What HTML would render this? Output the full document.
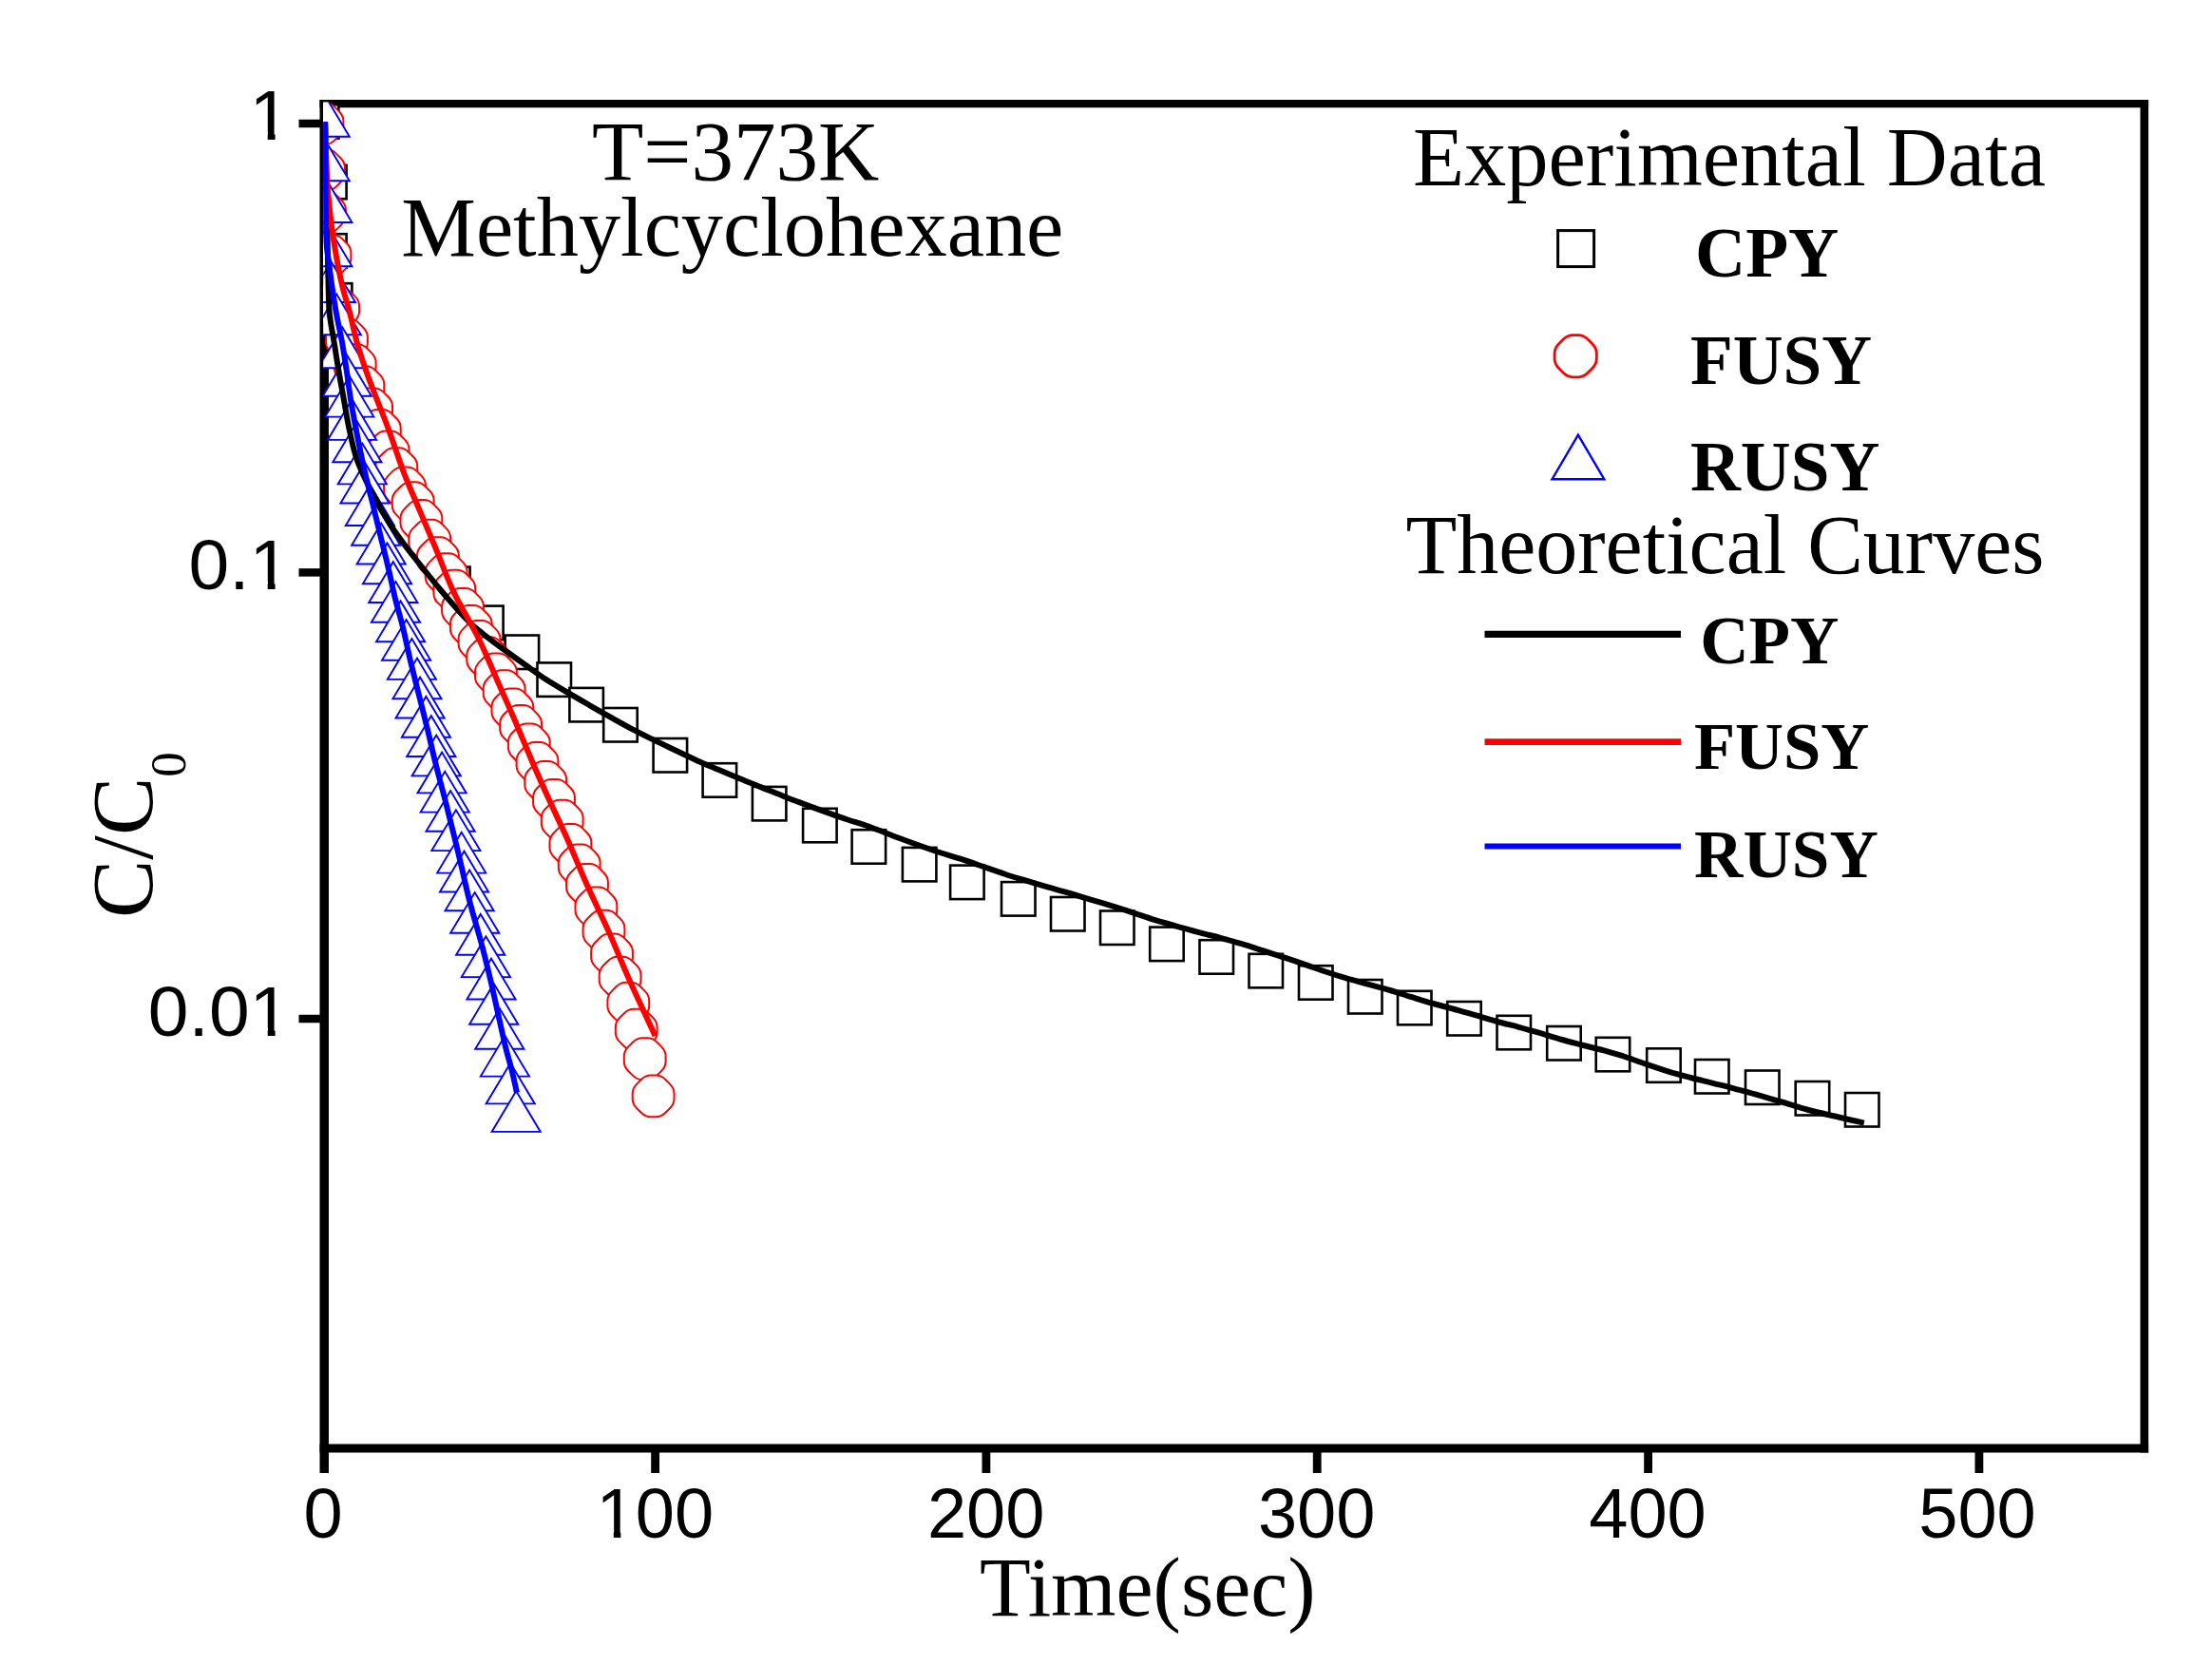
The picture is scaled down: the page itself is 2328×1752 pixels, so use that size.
<!DOCTYPE html>
<html><head><meta charset="utf-8"><title>C/C0 vs Time</title>
<style>html,body{margin:0;padding:0;background:#fff}svg{display:block;filter:blur(0.6px)}text{fill:#000}.s{font-family:"Liberation Serif",serif}.a{font-family:"Liberation Sans",sans-serif}.b{font-family:"Liberation Serif",serif;font-weight:bold}</style></head><body>
<svg width="2328" height="1752" viewBox="0 0 2328 1752">
<rect width="2328" height="1752" fill="#fff"/>
<defs><clipPath id="cp"><rect x="340.2" y="107.5" width="1917" height="1417"/></clipPath></defs>
<g stroke="#000" fill="none" stroke-linecap="butt">
<line x1="341.25" y1="105" x2="341.25" y2="1550" stroke-width="9.5"/>
<line x1="2256.8" y1="105" x2="2256.8" y2="1528.6" stroke-width="8.6"/>
<line x1="336.5" y1="109.1" x2="2261.1" y2="109.1" stroke-width="8.3"/>
<line x1="336.5" y1="1524" x2="2261.1" y2="1524" stroke-width="9.1"/>
<line x1="314.5" y1="130.0" x2="338" y2="130.0" stroke-width="8.5"/>
<line x1="314.5" y1="602.4" x2="338" y2="602.4" stroke-width="8.5"/>
<line x1="314.5" y1="1072.0" x2="338" y2="1072.0" stroke-width="8.5"/>
<line x1="689.6" y1="1526" x2="689.6" y2="1550" stroke-width="8.8"/>
<line x1="1037.9" y1="1526" x2="1037.9" y2="1550" stroke-width="8.8"/>
<line x1="1386.2" y1="1526" x2="1386.2" y2="1550" stroke-width="8.8"/>
<line x1="1734.6" y1="1526" x2="1734.6" y2="1550" stroke-width="8.8"/>
<line x1="2082.9" y1="1526" x2="2082.9" y2="1550" stroke-width="8.8"/>
</g>
<g clip-path="url(#cp)">
<rect x="320.9" y="110.2" width="35.5" height="35.5" fill="#fff" stroke="#000" stroke-width="2.6"/>
<rect x="329.1" y="173.8" width="35.5" height="35.5" fill="#fff" stroke="#000" stroke-width="2.6"/>
<rect x="329.1" y="246.2" width="35.5" height="35.5" fill="#fff" stroke="#000" stroke-width="2.6"/>
<rect x="334.9" y="298.2" width="35.5" height="35.5" fill="#fff" stroke="#000" stroke-width="2.6"/>
<rect x="459.1" y="596.6" width="35.5" height="35.5" fill="#fff" stroke="#000" stroke-width="2.6"/>
<rect x="494.1" y="637.6" width="35.5" height="35.5" fill="#fff" stroke="#000" stroke-width="2.6"/>
<rect x="531.6" y="668.5" width="35.5" height="35.5" fill="#fff" stroke="#000" stroke-width="2.6"/>
<rect x="565.5" y="697.4" width="35.5" height="35.5" fill="#fff" stroke="#000" stroke-width="2.6"/>
<rect x="599.4" y="723.9" width="35.5" height="35.5" fill="#fff" stroke="#000" stroke-width="2.6"/>
<rect x="635.2" y="745.0" width="35.5" height="35.5" fill="#fff" stroke="#000" stroke-width="2.6"/>
<rect x="687.6" y="777.0" width="35.5" height="35.5" fill="#fff" stroke="#000" stroke-width="2.6"/>
<rect x="739.6" y="803.2" width="35.5" height="35.5" fill="#fff" stroke="#000" stroke-width="2.6"/>
<rect x="791.9" y="827.9" width="35.5" height="35.5" fill="#fff" stroke="#000" stroke-width="2.6"/>
<rect x="845.1" y="850.8" width="35.5" height="35.5" fill="#fff" stroke="#000" stroke-width="2.6"/>
<rect x="896.6" y="873.2" width="35.5" height="35.5" fill="#fff" stroke="#000" stroke-width="2.6"/>
<rect x="949.9" y="891.9" width="35.5" height="35.5" fill="#fff" stroke="#000" stroke-width="2.6"/>
<rect x="1000.1" y="910.6" width="35.5" height="35.5" fill="#fff" stroke="#000" stroke-width="2.6"/>
<rect x="1054.0" y="928.1" width="35.5" height="35.5" fill="#fff" stroke="#000" stroke-width="2.6"/>
<rect x="1106.0" y="944.0" width="35.5" height="35.5" fill="#fff" stroke="#000" stroke-width="2.6"/>
<rect x="1158.0" y="958.5" width="35.5" height="35.5" fill="#fff" stroke="#000" stroke-width="2.6"/>
<rect x="1210.2" y="975.6" width="35.5" height="35.5" fill="#fff" stroke="#000" stroke-width="2.6"/>
<rect x="1262.5" y="989.2" width="35.5" height="35.5" fill="#fff" stroke="#000" stroke-width="2.6"/>
<rect x="1314.5" y="1003.8" width="35.5" height="35.5" fill="#fff" stroke="#000" stroke-width="2.6"/>
<rect x="1367.0" y="1016.2" width="35.5" height="35.5" fill="#fff" stroke="#000" stroke-width="2.6"/>
<rect x="1419.0" y="1031.0" width="35.5" height="35.5" fill="#fff" stroke="#000" stroke-width="2.6"/>
<rect x="1471.0" y="1042.8" width="35.5" height="35.5" fill="#fff" stroke="#000" stroke-width="2.6"/>
<rect x="1523.2" y="1054.0" width="35.5" height="35.5" fill="#fff" stroke="#000" stroke-width="2.6"/>
<rect x="1575.5" y="1068.8" width="35.5" height="35.5" fill="#fff" stroke="#000" stroke-width="2.6"/>
<rect x="1628.2" y="1080.0" width="35.5" height="35.5" fill="#fff" stroke="#000" stroke-width="2.6"/>
<rect x="1679.7" y="1091.8" width="35.5" height="35.5" fill="#fff" stroke="#000" stroke-width="2.6"/>
<rect x="1733.2" y="1103.3" width="35.5" height="35.5" fill="#fff" stroke="#000" stroke-width="2.6"/>
<rect x="1784.0" y="1115.0" width="35.5" height="35.5" fill="#fff" stroke="#000" stroke-width="2.6"/>
<rect x="1837.0" y="1126.5" width="35.5" height="35.5" fill="#fff" stroke="#000" stroke-width="2.6"/>
<rect x="1889.7" y="1138.0" width="35.5" height="35.5" fill="#fff" stroke="#000" stroke-width="2.6"/>
<rect x="1942.0" y="1150.0" width="35.5" height="35.5" fill="#fff" stroke="#000" stroke-width="2.6"/>
<path d="M326.7,112.6 Q331.2,108.1 336.7,108.1 L342.3,108.1 Q347.8,108.1 352.3,112.6 L356.9,117.2 Q361.4,121.7 361.4,127.2 L361.4,132.8 Q361.4,138.3 356.9,142.8 L352.3,147.4 Q347.8,151.9 342.3,151.9 L336.7,151.9 Q331.2,151.9 326.7,147.4 L322.1,142.8 Q317.6,138.3 317.6,132.8 L317.6,127.2 Q317.6,121.7 322.1,117.2 Z" fill="#fff" stroke="#f00" stroke-width="2.0"/>
<path d="M328.2,161.6 Q332.7,157.1 338.2,157.1 L343.8,157.1 Q349.3,157.1 353.8,161.6 L358.4,166.2 Q362.9,170.7 362.9,176.2 L362.9,181.8 Q362.9,187.3 358.4,191.8 L353.8,196.4 Q349.3,200.9 343.8,200.9 L338.2,200.9 Q332.7,200.9 328.2,196.4 L323.6,191.8 Q319.1,187.3 319.1,181.8 L319.1,176.2 Q319.1,170.7 323.6,166.2 Z" fill="#fff" stroke="#f00" stroke-width="2.0"/>
<path d="M329.2,206.1 Q333.7,201.6 339.2,201.6 L344.8,201.6 Q350.3,201.6 354.8,206.1 L359.4,210.7 Q363.9,215.2 363.9,220.7 L363.9,226.3 Q363.9,231.8 359.4,236.3 L354.8,240.9 Q350.3,245.4 344.8,245.4 L339.2,245.4 Q333.7,245.4 329.2,240.9 L324.6,236.3 Q320.1,231.8 320.1,226.3 L320.1,220.7 Q320.1,215.2 324.6,210.7 Z" fill="#fff" stroke="#f00" stroke-width="2.0"/>
<path d="M334.7,251.4 Q339.2,246.9 344.7,246.9 L350.3,246.9 Q355.8,246.9 360.3,251.4 L364.9,256.0 Q369.4,260.5 369.4,266.0 L369.4,271.7 Q369.4,277.2 364.9,281.6 L360.3,286.2 Q355.8,290.7 350.3,290.7 L344.7,290.7 Q339.2,290.7 334.7,286.2 L330.1,281.6 Q325.6,277.2 325.6,271.7 L325.6,266.0 Q325.6,260.5 330.1,256.0 Z" fill="#fff" stroke="#f00" stroke-width="2.0"/>
<path d="M343.4,307.3 Q347.9,302.9 353.4,302.9 L359.1,302.9 Q364.6,302.9 369.0,307.3 L373.7,311.9 Q378.1,316.4 378.1,321.9 L378.1,327.6 Q378.1,333.1 373.7,337.6 L369.0,342.2 Q364.6,346.7 359.1,346.7 L353.4,346.7 Q347.9,346.7 343.4,342.2 L338.8,337.6 Q334.3,333.1 334.3,327.6 L334.3,321.9 Q334.3,316.4 338.8,311.9 Z" fill="#fff" stroke="#f00" stroke-width="2.0"/>
<path d="M352.2,340.1 Q356.6,335.6 362.1,335.6 L367.8,335.6 Q373.3,335.6 377.8,340.1 L382.4,344.7 Q386.9,349.2 386.9,354.7 L386.9,360.3 Q386.9,365.8 382.4,370.3 L377.8,374.9 Q373.3,379.4 367.8,379.4 L362.1,379.4 Q356.6,379.4 352.2,374.9 L347.5,370.3 Q343.1,365.8 343.1,360.3 L343.1,354.7 Q343.1,349.2 347.5,344.7 Z" fill="#fff" stroke="#f00" stroke-width="2.0"/>
<path d="M360.9,366.8 Q365.4,362.3 370.9,362.3 L376.5,362.3 Q382.0,362.3 386.5,366.8 L391.1,371.4 Q395.6,375.9 395.6,381.4 L395.6,387.0 Q395.6,392.5 391.1,397.0 L386.5,401.6 Q382.0,406.1 376.5,406.1 L370.9,406.1 Q365.4,406.1 360.9,401.6 L356.3,397.0 Q351.8,392.5 351.8,387.0 L351.8,381.4 Q351.8,375.9 356.3,371.4 Z" fill="#fff" stroke="#f00" stroke-width="2.0"/>
<path d="M369.6,389.8 Q374.1,385.3 379.6,385.3 L385.2,385.3 Q390.7,385.3 395.2,389.8 L399.8,394.4 Q404.3,398.9 404.3,404.4 L404.3,410.0 Q404.3,415.5 399.8,420.0 L395.2,424.6 Q390.7,429.1 385.2,429.1 L379.6,429.1 Q374.1,429.1 369.6,424.6 L365.0,420.0 Q360.5,415.5 360.5,410.0 L360.5,404.4 Q360.5,398.9 365.0,394.4 Z" fill="#fff" stroke="#f00" stroke-width="2.0"/>
<path d="M378.3,412.9 Q382.8,408.5 388.3,408.5 L393.9,408.5 Q399.4,408.5 403.9,412.9 L408.5,417.5 Q413.0,422.0 413.0,427.5 L413.0,433.2 Q413.0,438.7 408.5,443.2 L403.9,447.8 Q399.4,452.3 393.9,452.3 L388.3,452.3 Q382.8,452.3 378.3,447.8 L373.7,443.2 Q369.2,438.7 369.2,433.2 L369.2,427.5 Q369.2,422.0 373.7,417.5 Z" fill="#fff" stroke="#f00" stroke-width="2.0"/>
<path d="M387.0,435.6 Q391.5,431.1 397.0,431.1 L402.7,431.1 Q408.2,431.1 412.6,435.6 L417.3,440.2 Q421.7,444.7 421.7,450.2 L421.7,455.9 Q421.7,461.3 417.3,465.8 L412.6,470.4 Q408.2,474.9 402.7,474.9 L397.0,474.9 Q391.5,474.9 387.0,470.4 L382.4,465.8 Q377.9,461.3 377.9,455.9 L377.9,450.2 Q377.9,444.7 382.4,440.2 Z" fill="#fff" stroke="#f00" stroke-width="2.0"/>
<path d="M395.8,458.0 Q400.2,453.5 405.7,453.5 L411.4,453.5 Q416.9,453.5 421.4,458.0 L426.0,462.6 Q430.5,467.1 430.5,472.6 L430.5,478.3 Q430.5,483.7 426.0,488.2 L421.4,492.8 Q416.9,497.3 411.4,497.3 L405.7,497.3 Q400.2,497.3 395.8,492.8 L391.1,488.2 Q386.7,483.7 386.7,478.3 L386.7,472.6 Q386.7,467.1 391.1,462.6 Z" fill="#fff" stroke="#f00" stroke-width="2.0"/>
<path d="M404.5,475.7 Q409.0,471.2 414.5,471.2 L420.1,471.2 Q425.6,471.2 430.1,475.7 L434.7,480.3 Q439.2,484.8 439.2,490.3 L439.2,495.9 Q439.2,501.4 434.7,505.9 L430.1,510.5 Q425.6,515.0 420.1,515.0 L414.5,515.0 Q409.0,515.0 404.5,510.5 L399.9,505.9 Q395.4,501.4 395.4,495.9 L395.4,490.3 Q395.4,484.8 399.9,480.3 Z" fill="#fff" stroke="#f00" stroke-width="2.0"/>
<path d="M413.2,495.9 Q417.7,491.5 423.2,491.5 L428.8,491.5 Q434.3,491.5 438.8,495.9 L443.4,500.6 Q447.9,505.0 447.9,510.5 L447.9,516.2 Q447.9,521.7 443.4,526.2 L438.8,530.8 Q434.3,535.3 428.8,535.3 L423.2,535.3 Q417.7,535.3 413.2,530.8 L408.6,526.2 Q404.1,521.7 404.1,516.2 L404.1,510.5 Q404.1,505.0 408.6,500.6 Z" fill="#fff" stroke="#f00" stroke-width="2.0"/>
<path d="M421.9,511.7 Q426.4,507.2 431.9,507.2 L437.5,507.2 Q443.0,507.2 447.5,511.7 L452.1,516.3 Q456.6,520.8 456.6,526.3 L456.6,532.0 Q456.6,537.5 452.1,541.9 L447.5,546.6 Q443.0,551.0 437.5,551.0 L431.9,551.0 Q426.4,551.0 421.9,546.6 L417.3,541.9 Q412.8,537.5 412.8,532.0 L412.8,526.3 Q412.8,520.8 417.3,516.3 Z" fill="#fff" stroke="#f00" stroke-width="2.0"/>
<path d="M430.6,530.5 Q435.1,526.1 440.6,526.1 L446.3,526.1 Q451.8,526.1 456.2,530.5 L460.9,535.2 Q465.3,539.6 465.3,545.1 L465.3,550.8 Q465.3,556.3 460.9,560.8 L456.2,565.4 Q451.8,569.9 446.3,569.9 L440.6,569.9 Q435.1,569.9 430.6,565.4 L426.0,560.8 Q421.5,556.3 421.5,550.8 L421.5,545.1 Q421.5,539.6 426.0,535.2 Z" fill="#fff" stroke="#f00" stroke-width="2.0"/>
<path d="M439.4,551.3 Q443.8,546.8 449.3,546.8 L455.0,546.8 Q460.5,546.8 465.0,551.3 L469.6,555.9 Q474.1,560.4 474.1,565.9 L474.1,571.5 Q474.1,577.0 469.6,581.5 L465.0,586.1 Q460.5,590.6 455.0,590.6 L449.3,590.6 Q443.8,590.6 439.4,586.1 L434.7,581.5 Q430.3,577.0 430.3,571.5 L430.3,565.9 Q430.3,560.4 434.7,555.9 Z" fill="#fff" stroke="#f00" stroke-width="2.0"/>
<path d="M448.1,569.7 Q452.6,565.2 458.1,565.2 L463.7,565.2 Q469.2,565.2 473.7,569.7 L478.3,574.3 Q482.8,578.8 482.8,584.3 L482.8,590.0 Q482.8,595.5 478.3,600.0 L473.7,604.6 Q469.2,609.0 463.7,609.0 L458.1,609.0 Q452.6,609.0 448.1,604.6 L443.5,600.0 Q439.0,595.5 439.0,590.0 L439.0,584.3 Q439.0,578.8 443.5,574.3 Z" fill="#fff" stroke="#f00" stroke-width="2.0"/>
<path d="M456.8,586.8 Q461.3,582.3 466.8,582.3 L472.4,582.3 Q477.9,582.3 482.4,586.8 L487.0,591.4 Q491.5,595.9 491.5,601.4 L491.5,607.0 Q491.5,612.5 487.0,617.0 L482.4,621.6 Q477.9,626.1 472.4,626.1 L466.8,626.1 Q461.3,626.1 456.8,621.6 L452.2,617.0 Q447.7,612.5 447.7,607.0 L447.7,601.4 Q447.7,595.9 452.2,591.4 Z" fill="#fff" stroke="#f00" stroke-width="2.0"/>
<path d="M465.5,604.1 Q470.0,599.7 475.5,599.7 L481.1,599.7 Q486.6,599.7 491.1,604.1 L495.7,608.8 Q500.2,613.2 500.2,618.7 L500.2,624.4 Q500.2,629.9 495.7,634.4 L491.1,639.0 Q486.6,643.5 481.1,643.5 L475.5,643.5 Q470.0,643.5 465.5,639.0 L460.9,634.4 Q456.4,629.9 456.4,624.4 L456.4,618.7 Q456.4,613.2 460.9,608.8 Z" fill="#fff" stroke="#f00" stroke-width="2.0"/>
<path d="M474.2,623.4 Q478.7,618.9 484.2,618.9 L489.9,618.9 Q495.4,618.9 499.8,623.4 L504.5,628.0 Q508.9,632.5 508.9,638.0 L508.9,643.6 Q508.9,649.1 504.5,653.6 L499.8,658.2 Q495.4,662.7 489.9,662.7 L484.2,662.7 Q478.7,662.7 474.2,658.2 L469.6,653.6 Q465.1,649.1 465.1,643.6 L465.1,638.0 Q465.1,632.5 469.6,628.0 Z" fill="#fff" stroke="#f00" stroke-width="2.0"/>
<path d="M483.0,641.6 Q487.4,637.1 492.9,637.1 L498.6,637.1 Q504.1,637.1 508.6,641.6 L513.2,646.2 Q517.7,650.7 517.7,656.2 L517.7,661.8 Q517.7,667.3 513.2,671.8 L508.6,676.4 Q504.1,680.9 498.6,680.9 L492.9,680.9 Q487.4,680.9 483.0,676.4 L478.3,671.8 Q473.9,667.3 473.9,661.8 L473.9,656.2 Q473.9,650.7 478.3,646.2 Z" fill="#fff" stroke="#f00" stroke-width="2.0"/>
<path d="M491.7,657.5 Q496.2,653.0 501.7,653.0 L507.3,653.0 Q512.8,653.0 517.3,657.5 L521.9,662.1 Q526.4,666.6 526.4,672.1 L526.4,677.8 Q526.4,683.3 521.9,687.7 L517.3,692.4 Q512.8,696.8 507.3,696.8 L501.7,696.8 Q496.2,696.8 491.7,692.4 L487.1,687.7 Q482.6,683.3 482.6,677.8 L482.6,672.1 Q482.6,666.6 487.1,662.1 Z" fill="#fff" stroke="#f00" stroke-width="2.0"/>
<path d="M500.4,674.8 Q504.9,670.3 510.4,670.3 L516.0,670.3 Q521.5,670.3 526.0,674.8 L530.6,679.4 Q535.1,683.9 535.1,689.3 L535.1,695.0 Q535.1,700.5 530.6,705.0 L526.0,709.6 Q521.5,714.1 516.0,714.1 L510.4,714.1 Q504.9,714.1 500.4,709.6 L495.8,705.0 Q491.3,700.5 491.3,695.0 L491.3,689.3 Q491.3,683.9 495.8,679.4 Z" fill="#fff" stroke="#f00" stroke-width="2.0"/>
<path d="M509.1,692.0 Q513.6,687.5 519.1,687.5 L524.7,687.5 Q530.2,687.5 534.7,692.0 L539.3,696.6 Q543.8,701.1 543.8,706.6 L543.8,712.3 Q543.8,717.8 539.3,722.2 L534.7,726.9 Q530.2,731.3 524.7,731.3 L519.1,731.3 Q513.6,731.3 509.1,726.9 L504.5,722.2 Q500.0,717.8 500.0,712.3 L500.0,706.6 Q500.0,701.1 504.5,696.6 Z" fill="#fff" stroke="#f00" stroke-width="2.0"/>
<path d="M517.8,709.7 Q522.3,705.2 527.8,705.2 L533.5,705.2 Q539.0,705.2 543.4,709.7 L548.1,714.3 Q552.5,718.8 552.5,724.3 L552.5,729.9 Q552.5,735.4 548.1,739.9 L543.4,744.5 Q539.0,749.0 533.5,749.0 L527.8,749.0 Q522.3,749.0 517.8,744.5 L513.2,739.9 Q508.7,735.4 508.7,729.9 L508.7,724.3 Q508.7,718.8 513.2,714.3 Z" fill="#fff" stroke="#f00" stroke-width="2.0"/>
<path d="M526.6,729.1 Q531.0,724.6 536.5,724.6 L542.2,724.6 Q547.7,724.6 552.2,729.1 L556.8,733.7 Q561.3,738.2 561.3,743.7 L561.3,749.3 Q561.3,754.8 556.8,759.3 L552.2,763.9 Q547.7,768.4 542.2,768.4 L536.5,768.4 Q531.0,768.4 526.6,763.9 L521.9,759.3 Q517.5,754.8 517.5,749.3 L517.5,743.7 Q517.5,738.2 521.9,733.7 Z" fill="#fff" stroke="#f00" stroke-width="2.0"/>
<path d="M535.3,746.6 Q539.8,742.1 545.3,742.1 L550.9,742.1 Q556.4,742.1 560.9,746.6 L565.5,751.2 Q570.0,755.7 570.0,761.2 L570.0,766.9 Q570.0,772.3 565.5,776.8 L560.9,781.4 Q556.4,785.9 550.9,785.9 L545.3,785.9 Q539.8,785.9 535.3,781.4 L530.7,776.8 Q526.2,772.3 526.2,766.9 L526.2,761.2 Q526.2,755.7 530.7,751.2 Z" fill="#fff" stroke="#f00" stroke-width="2.0"/>
<path d="M544.0,766.1 Q548.5,761.6 554.0,761.6 L559.6,761.6 Q565.1,761.6 569.6,766.1 L574.2,770.7 Q578.7,775.2 578.7,780.7 L578.7,786.4 Q578.7,791.9 574.2,796.3 L569.6,801.0 Q565.1,805.4 559.6,805.4 L554.0,805.4 Q548.5,805.4 544.0,801.0 L539.4,796.3 Q534.9,791.9 534.9,786.4 L534.9,780.7 Q534.9,775.2 539.4,770.7 Z" fill="#fff" stroke="#f00" stroke-width="2.0"/>
<path d="M552.7,785.5 Q557.2,781.0 562.7,781.0 L568.3,781.0 Q573.8,781.0 578.3,785.5 L582.9,790.1 Q587.4,794.6 587.4,800.1 L587.4,805.7 Q587.4,811.2 582.9,815.7 L578.3,820.3 Q573.8,824.8 568.3,824.8 L562.7,824.8 Q557.2,824.8 552.7,820.3 L548.1,815.7 Q543.6,811.2 543.6,805.7 L543.6,800.1 Q543.6,794.6 548.1,790.1 Z" fill="#fff" stroke="#f00" stroke-width="2.0"/>
<path d="M561.4,805.4 Q565.9,800.9 571.4,800.9 L577.1,800.9 Q582.6,800.9 587.0,805.4 L591.7,810.0 Q596.1,814.5 596.1,820.0 L596.1,825.7 Q596.1,831.1 591.7,835.6 L587.0,840.2 Q582.6,844.7 577.1,844.7 L571.4,844.7 Q565.9,844.7 561.4,840.2 L556.8,835.6 Q552.3,831.1 552.3,825.7 L552.3,820.0 Q552.3,814.5 556.8,810.0 Z" fill="#fff" stroke="#f00" stroke-width="2.0"/>
<path d="M570.2,824.4 Q574.6,819.9 580.1,819.9 L585.8,819.9 Q591.3,819.9 595.8,824.4 L600.4,829.0 Q604.9,833.5 604.9,839.0 L604.9,844.7 Q604.9,850.2 600.4,854.6 L595.8,859.3 Q591.3,863.7 585.8,863.7 L580.1,863.7 Q574.6,863.7 570.2,859.3 L565.5,854.6 Q561.1,850.2 561.1,844.7 L561.1,839.0 Q561.1,833.5 565.5,829.0 Z" fill="#fff" stroke="#f00" stroke-width="2.0"/>
<path d="M578.9,846.2 Q583.4,841.7 588.9,841.7 L594.5,841.7 Q600.0,841.7 604.5,846.2 L609.1,850.8 Q613.6,855.2 613.6,860.7 L613.6,866.4 Q613.6,871.9 609.1,876.4 L604.5,881.0 Q600.0,885.5 594.5,885.5 L588.9,885.5 Q583.4,885.5 578.9,881.0 L574.3,876.4 Q569.8,871.9 569.8,866.4 L569.8,860.7 Q569.8,855.2 574.3,850.8 Z" fill="#fff" stroke="#f00" stroke-width="2.0"/>
<path d="M587.6,871.6 Q592.1,867.1 597.6,867.1 L603.2,867.1 Q608.7,867.1 613.2,871.6 L617.8,876.2 Q622.3,880.7 622.3,886.2 L622.3,891.8 Q622.3,897.3 617.8,901.8 L613.2,906.4 Q608.7,910.9 603.2,910.9 L597.6,910.9 Q592.1,910.9 587.6,906.4 L583.0,901.8 Q578.5,897.3 578.5,891.8 L578.5,886.2 Q578.5,880.7 583.0,876.2 Z" fill="#fff" stroke="#f00" stroke-width="2.0"/>
<path d="M596.9,892.9 Q601.4,888.4 606.9,888.4 L612.5,888.4 Q618.0,888.4 622.5,892.9 L627.1,897.5 Q631.6,902.0 631.6,907.5 L631.6,913.1 Q631.6,918.6 627.1,923.1 L622.5,927.7 Q618.0,932.2 612.5,932.2 L606.9,932.2 Q601.4,932.2 596.9,927.7 L592.3,923.1 Q587.8,918.6 587.8,913.1 L587.8,907.5 Q587.8,902.0 592.3,897.5 Z" fill="#fff" stroke="#f00" stroke-width="2.0"/>
<path d="M605.2,913.6 Q609.7,909.1 615.2,909.1 L620.8,909.1 Q626.3,909.1 630.8,913.6 L635.4,918.2 Q639.9,922.7 639.9,928.2 L639.9,933.8 Q639.9,939.3 635.4,943.8 L630.8,948.4 Q626.3,952.9 620.8,952.9 L615.2,952.9 Q609.7,952.9 605.2,948.4 L600.6,943.8 Q596.1,939.3 596.1,933.8 L596.1,928.2 Q596.1,922.7 600.6,918.2 Z" fill="#fff" stroke="#f00" stroke-width="2.0"/>
<path d="M614.6,937.9 Q619.1,933.4 624.6,933.4 L630.2,933.4 Q635.7,933.4 640.2,937.9 L644.8,942.5 Q649.3,947.0 649.3,952.5 L649.3,958.1 Q649.3,963.6 644.8,968.1 L640.2,972.7 Q635.7,977.2 630.2,977.2 L624.6,977.2 Q619.1,977.2 614.6,972.7 L610.0,968.1 Q605.5,963.6 605.5,958.1 L605.5,952.5 Q605.5,947.0 610.0,942.5 Z" fill="#fff" stroke="#f00" stroke-width="2.0"/>
<path d="M622.7,962.2 Q627.2,957.7 632.7,957.7 L638.3,957.7 Q643.8,957.7 648.3,962.2 L652.9,966.8 Q657.4,971.3 657.4,976.8 L657.4,982.4 Q657.4,987.9 652.9,992.4 L648.3,997.0 Q643.8,1001.5 638.3,1001.5 L632.7,1001.5 Q627.2,1001.5 622.7,997.0 L618.1,992.4 Q613.6,987.9 613.6,982.4 L613.6,976.8 Q613.6,971.3 618.1,966.8 Z" fill="#fff" stroke="#f00" stroke-width="2.0"/>
<path d="M631.2,986.9 Q635.7,982.4 641.2,982.4 L646.8,982.4 Q652.3,982.4 656.8,986.9 L661.4,991.5 Q665.9,996.0 665.9,1001.5 L665.9,1007.1 Q665.9,1012.6 661.4,1017.1 L656.8,1021.7 Q652.3,1026.2 646.8,1026.2 L641.2,1026.2 Q635.7,1026.2 631.2,1021.7 L626.6,1017.1 Q622.1,1012.6 622.1,1007.1 L622.1,1001.5 Q622.1,996.0 626.6,991.5 Z" fill="#fff" stroke="#f00" stroke-width="2.0"/>
<path d="M639.8,1011.2 Q644.3,1006.7 649.8,1006.7 L655.4,1006.7 Q660.9,1006.7 665.4,1011.2 L670.0,1015.8 Q674.5,1020.3 674.5,1025.8 L674.5,1031.4 Q674.5,1036.9 670.0,1041.4 L665.4,1046.0 Q660.9,1050.5 655.4,1050.5 L649.8,1050.5 Q644.3,1050.5 639.8,1046.0 L635.2,1041.4 Q630.7,1036.9 630.7,1031.4 L630.7,1025.8 Q630.7,1020.3 635.2,1015.8 Z" fill="#fff" stroke="#f00" stroke-width="2.0"/>
<path d="M648.5,1038.3 Q653.0,1033.8 658.5,1033.8 L664.1,1033.8 Q669.6,1033.8 674.1,1038.3 L678.7,1042.9 Q683.2,1047.4 683.2,1052.9 L683.2,1058.5 Q683.2,1064.0 678.7,1068.5 L674.1,1073.1 Q669.6,1077.6 664.1,1077.6 L658.5,1077.6 Q653.0,1077.6 648.5,1073.1 L643.9,1068.5 Q639.4,1064.0 639.4,1058.5 L639.4,1052.9 Q639.4,1047.4 643.9,1042.9 Z" fill="#fff" stroke="#f00" stroke-width="2.0"/>
<path d="M656.9,1066.2 Q661.4,1061.7 666.9,1061.7 L672.5,1061.7 Q678.0,1061.7 682.5,1066.2 L687.1,1070.8 Q691.6,1075.3 691.6,1080.8 L691.6,1086.4 Q691.6,1091.9 687.1,1096.4 L682.5,1101.0 Q678.0,1105.5 672.5,1105.5 L666.9,1105.5 Q661.4,1105.5 656.9,1101.0 L652.3,1096.4 Q647.8,1091.9 647.8,1086.4 L647.8,1080.8 Q647.8,1075.3 652.3,1070.8 Z" fill="#fff" stroke="#f00" stroke-width="2.0"/>
<path d="M665.9,1096.8 Q670.4,1092.3 675.9,1092.3 L681.5,1092.3 Q687.0,1092.3 691.5,1096.8 L696.1,1101.4 Q700.6,1105.9 700.6,1111.4 L700.6,1117.0 Q700.6,1122.5 696.1,1127.0 L691.5,1131.6 Q687.0,1136.1 681.5,1136.1 L675.9,1136.1 Q670.4,1136.1 665.9,1131.6 L661.3,1127.0 Q656.8,1122.5 656.8,1117.0 L656.8,1111.4 Q656.8,1105.9 661.3,1101.4 Z" fill="#fff" stroke="#f00" stroke-width="2.0"/>
<path d="M674.8,1136.0 Q679.3,1131.5 684.8,1131.5 L690.4,1131.5 Q695.9,1131.5 700.4,1136.0 L705.0,1140.6 Q709.5,1145.1 709.5,1150.6 L709.5,1156.2 Q709.5,1161.7 705.0,1166.2 L700.4,1170.8 Q695.9,1175.3 690.4,1175.3 L684.8,1175.3 Q679.3,1175.3 674.8,1170.8 L670.2,1166.2 Q665.7,1161.7 665.7,1156.2 L665.7,1150.6 Q665.7,1145.1 670.2,1140.6 Z" fill="#fff" stroke="#f00" stroke-width="2.0"/>
<path d="M316.6,143.7 L367.8,143.7 L342.2,100.9 Z" fill="#fff" stroke="#00f" stroke-width="1.9" stroke-miterlimit="10"/>
<path d="M316.6,190.2 L367.8,190.2 L342.2,147.4 Z" fill="#fff" stroke="#00f" stroke-width="1.9" stroke-miterlimit="10"/>
<path d="M319.2,234.0 L370.4,234.0 L344.8,191.2 Z" fill="#fff" stroke="#00f" stroke-width="1.9" stroke-miterlimit="10"/>
<path d="M319.2,280.2 L370.4,280.2 L344.8,237.4 Z" fill="#fff" stroke="#00f" stroke-width="1.9" stroke-miterlimit="10"/>
<path d="M322.8,318.0 L374.0,318.0 L348.4,275.2 Z" fill="#fff" stroke="#00f" stroke-width="1.9" stroke-miterlimit="10"/>
<path d="M328.7,352.3 L379.9,352.3 L354.3,309.5 Z" fill="#fff" stroke="#00f" stroke-width="1.9" stroke-miterlimit="10"/>
<path d="M334.7,387.2 L385.9,387.2 L360.3,344.4 Z" fill="#fff" stroke="#00f" stroke-width="1.9" stroke-miterlimit="10"/>
<path d="M339.7,416.7 L390.9,416.7 L365.3,373.9 Z" fill="#fff" stroke="#00f" stroke-width="1.9" stroke-miterlimit="10"/>
<path d="M342.2,438.6 L393.4,438.6 L367.8,395.8 Z" fill="#fff" stroke="#00f" stroke-width="1.9" stroke-miterlimit="10"/>
<path d="M344.9,462.9 L396.1,462.9 L370.5,420.1 Z" fill="#fff" stroke="#00f" stroke-width="1.9" stroke-miterlimit="10"/>
<path d="M350.3,486.3 L401.5,486.3 L375.9,443.5 Z" fill="#fff" stroke="#00f" stroke-width="1.9" stroke-miterlimit="10"/>
<path d="M355.7,509.4 L406.9,509.4 L381.3,466.6 Z" fill="#fff" stroke="#00f" stroke-width="1.9" stroke-miterlimit="10"/>
<path d="M358.4,529.5 L409.6,529.5 L384.0,486.7 Z" fill="#fff" stroke="#00f" stroke-width="1.9" stroke-miterlimit="10"/>
<path d="M363.8,553.0 L415.0,553.0 L389.4,510.2 Z" fill="#fff" stroke="#00f" stroke-width="1.9" stroke-miterlimit="10"/>
<path d="M370.1,573.7 L421.3,573.7 L395.7,530.9 Z" fill="#fff" stroke="#00f" stroke-width="1.9" stroke-miterlimit="10"/>
<path d="M375.6,593.5 L426.8,593.5 L401.2,550.7 Z" fill="#fff" stroke="#00f" stroke-width="1.9" stroke-miterlimit="10"/>
<path d="M381.9,614.2 L433.1,614.2 L407.5,571.4 Z" fill="#fff" stroke="#00f" stroke-width="1.9" stroke-miterlimit="10"/>
<path d="M388.2,634.0 L439.4,634.0 L413.8,591.2 Z" fill="#fff" stroke="#00f" stroke-width="1.9" stroke-miterlimit="10"/>
<path d="M390.9,654.8 L442.1,654.8 L416.5,612.0 Z" fill="#fff" stroke="#00f" stroke-width="1.9" stroke-miterlimit="10"/>
<path d="M396.0,675.2 L447.2,675.2 L421.6,632.4 Z" fill="#fff" stroke="#00f" stroke-width="1.9" stroke-miterlimit="10"/>
<path d="M402.0,694.8 L453.2,694.8 L427.6,652.0 Z" fill="#fff" stroke="#00f" stroke-width="1.9" stroke-miterlimit="10"/>
<path d="M407.8,714.9 L459.0,714.9 L433.4,672.1 Z" fill="#fff" stroke="#00f" stroke-width="1.9" stroke-miterlimit="10"/>
<path d="M413.4,735.3 L464.6,735.3 L439.0,692.5 Z" fill="#fff" stroke="#00f" stroke-width="1.9" stroke-miterlimit="10"/>
<path d="M416.5,755.5 L467.7,755.5 L442.1,712.7 Z" fill="#fff" stroke="#00f" stroke-width="1.9" stroke-miterlimit="10"/>
<path d="M422.8,775.7 L474.0,775.7 L448.4,732.9 Z" fill="#fff" stroke="#00f" stroke-width="1.9" stroke-miterlimit="10"/>
<path d="M428.2,796.0 L479.4,796.0 L453.8,753.2 Z" fill="#fff" stroke="#00f" stroke-width="1.9" stroke-miterlimit="10"/>
<path d="M433.6,816.4 L484.8,816.4 L459.2,773.6 Z" fill="#fff" stroke="#00f" stroke-width="1.9" stroke-miterlimit="10"/>
<path d="M439.5,834.4 L490.7,834.4 L465.1,791.6 Z" fill="#fff" stroke="#00f" stroke-width="1.9" stroke-miterlimit="10"/>
<path d="M442.6,854.6 L493.8,854.6 L468.2,811.8 Z" fill="#fff" stroke="#00f" stroke-width="1.9" stroke-miterlimit="10"/>
<path d="M448.5,874.8 L499.7,874.8 L474.1,832.0 Z" fill="#fff" stroke="#00f" stroke-width="1.9" stroke-miterlimit="10"/>
<path d="M454.3,895.1 L505.5,895.1 L479.9,852.3 Z" fill="#fff" stroke="#00f" stroke-width="1.9" stroke-miterlimit="10"/>
<path d="M460.1,918.6 L511.3,918.6 L485.7,875.8 Z" fill="#fff" stroke="#00f" stroke-width="1.9" stroke-miterlimit="10"/>
<path d="M462.9,938.5 L514.1,938.5 L488.5,895.7 Z" fill="#fff" stroke="#00f" stroke-width="1.9" stroke-miterlimit="10"/>
<path d="M468.5,958.3 L519.7,958.3 L494.1,915.5 Z" fill="#fff" stroke="#00f" stroke-width="1.9" stroke-miterlimit="10"/>
<path d="M474.1,981.8 L525.3,981.8 L499.7,939.0 Z" fill="#fff" stroke="#00f" stroke-width="1.9" stroke-miterlimit="10"/>
<path d="M480.1,1004.7 L531.3,1004.7 L505.7,961.9 Z" fill="#fff" stroke="#00f" stroke-width="1.9" stroke-miterlimit="10"/>
<path d="M485.8,1028.1 L537.0,1028.1 L511.4,985.3 Z" fill="#fff" stroke="#00f" stroke-width="1.9" stroke-miterlimit="10"/>
<path d="M491.4,1051.5 L542.6,1051.5 L517.0,1008.7 Z" fill="#fff" stroke="#00f" stroke-width="1.9" stroke-miterlimit="10"/>
<path d="M494.1,1077.7 L545.3,1077.7 L519.7,1034.9 Z" fill="#fff" stroke="#00f" stroke-width="1.9" stroke-miterlimit="10"/>
<path d="M500.2,1103.8 L551.4,1103.8 L525.8,1061.0 Z" fill="#fff" stroke="#00f" stroke-width="1.9" stroke-miterlimit="10"/>
<path d="M505.8,1132.6 L557.0,1132.6 L531.4,1089.8 Z" fill="#fff" stroke="#00f" stroke-width="1.9" stroke-miterlimit="10"/>
<path d="M511.6,1161.4 L562.8,1161.4 L537.2,1118.6 Z" fill="#fff" stroke="#00f" stroke-width="1.9" stroke-miterlimit="10"/>
<path d="M517.6,1190.9 L568.8,1190.9 L543.2,1148.1 Z" fill="#fff" stroke="#00f" stroke-width="1.9" stroke-miterlimit="10"/>
<path d="M342.0,130.0 C342.2,141.7 342.9,171.7 343.5,200.0 C344.1,228.3 345.1,278.3 345.6,300.0 C346.2,321.7 345.8,320.0 346.8,330.0 C347.8,340.0 350.0,350.0 351.6,360.0 C353.2,370.0 354.7,380.0 356.4,390.0 C358.1,400.0 360.0,410.0 361.8,420.0 C363.6,430.0 365.1,440.0 367.2,450.0 C369.3,460.0 371.9,471.7 374.4,480.0 C376.9,488.3 379.4,493.1 382.3,499.6 C385.2,506.1 388.7,512.7 392.0,519.0 C395.3,525.3 398.5,531.5 402.0,537.5 C405.5,543.5 409.2,549.6 413.0,555.3 C416.8,561.0 420.7,566.3 424.5,571.5 C428.3,576.7 432.1,581.5 436.0,586.5 C439.9,591.5 443.6,596.0 448.0,601.5 C452.4,607.0 458.1,614.1 462.6,619.5 C467.1,624.9 470.8,629.2 475.0,634.0 C479.2,638.8 484.2,644.4 488.0,648.5 C491.8,652.6 494.7,655.5 498.0,658.5 C501.3,661.5 502.4,662.3 507.8,666.5 C513.2,670.7 522.9,678.0 530.4,683.5 C537.9,689.0 545.5,694.4 553.0,699.8 C560.5,705.1 568.1,710.7 575.6,715.6 C583.1,720.5 590.7,724.8 598.2,729.2 C605.7,733.7 613.3,738.0 620.8,742.3 C628.3,746.6 635.9,751.0 643.4,755.2 C650.9,759.4 658.5,763.7 666.0,767.6 C673.5,771.5 681.1,775.2 688.6,778.9 C696.1,782.6 703.8,786.2 711.3,789.8 C718.8,793.4 726.4,797.0 733.9,800.4 C741.4,803.8 749.0,806.9 756.5,810.1 C764.0,813.3 771.6,816.5 779.1,819.6 C786.6,822.7 794.2,825.6 801.7,828.6 C809.2,831.6 816.8,834.8 824.3,837.7 C831.8,840.7 839.4,843.5 846.9,846.3 C854.4,849.1 862.0,851.9 869.5,854.6 C877.0,857.3 884.6,860.0 892.1,862.5 C899.6,865.0 905.9,866.6 914.7,869.8 C923.6,873.0 936.4,878.2 945.2,881.5 C954.1,884.8 960.3,887.1 967.8,889.8 C975.3,892.5 982.9,895.1 990.4,897.5 C997.9,899.9 1005.5,901.9 1013.0,904.4 C1020.5,906.9 1028.1,909.6 1035.6,912.2 C1043.1,914.8 1050.7,917.5 1058.2,920.0 C1065.7,922.5 1073.3,924.6 1080.8,926.9 C1088.3,929.2 1095.9,931.5 1103.4,933.7 C1110.9,935.9 1118.5,937.8 1126.0,940.0 C1133.5,942.2 1141.0,944.5 1148.6,946.8 C1156.1,949.1 1163.8,951.3 1171.3,953.6 C1178.8,955.9 1186.4,958.3 1193.9,960.8 C1201.4,963.3 1209.0,966.1 1216.5,968.4 C1224.0,970.7 1231.5,972.7 1239.0,974.8 C1246.5,976.9 1254.2,979.2 1261.7,981.2 C1269.2,983.2 1276.8,984.8 1284.3,986.8 C1291.8,988.8 1299.4,990.9 1306.9,993.2 C1314.4,995.5 1322.0,998.0 1329.5,1000.4 C1337.0,1002.8 1344.5,1005.1 1352.0,1007.6 C1359.5,1010.1 1367.5,1012.8 1374.7,1015.3 C1381.9,1017.8 1388.0,1020.1 1395.2,1022.5 C1402.4,1024.9 1410.3,1027.4 1417.8,1029.6 C1425.3,1031.8 1432.9,1033.7 1440.4,1035.8 C1447.9,1037.9 1455.5,1039.8 1463.0,1042.0 C1470.5,1044.2 1478.1,1046.9 1485.6,1049.2 C1493.1,1051.5 1500.7,1053.9 1508.2,1056.0 C1515.7,1058.1 1523.3,1059.9 1530.8,1062.0 C1538.3,1064.1 1545.9,1066.2 1553.4,1068.4 C1560.9,1070.6 1568.5,1072.9 1576.0,1075.0 C1583.5,1077.1 1591.0,1078.8 1598.6,1080.8 C1606.1,1082.8 1613.8,1085.0 1621.3,1087.2 C1628.8,1089.4 1636.4,1091.9 1643.9,1094.0 C1651.4,1096.1 1659.0,1098.0 1666.5,1100.0 C1674.0,1102.0 1681.5,1103.6 1689.0,1105.7 C1696.5,1107.8 1704.2,1110.0 1711.7,1112.5 C1719.2,1115.0 1726.8,1117.9 1734.3,1120.4 C1741.8,1123.0 1749.4,1125.5 1756.9,1127.8 C1764.4,1130.1 1772.0,1132.0 1779.5,1134.0 C1787.0,1136.0 1794.5,1137.7 1802.0,1139.6 C1809.5,1141.5 1817.2,1143.3 1824.7,1145.3 C1832.2,1147.3 1838.9,1149.0 1847.3,1151.4 C1855.7,1153.8 1865.7,1156.7 1875.0,1159.5 C1884.3,1162.3 1893.4,1165.3 1903.4,1168.0 C1913.4,1170.7 1925.3,1173.2 1935.0,1175.5 C1944.7,1177.8 1957.3,1180.6 1961.8,1181.6" fill="none" stroke="#000" stroke-width="6" stroke-linejoin="round"/>
<path d="M342.2,130.0 C342.4,136.7 343.1,159.2 343.5,170.0 C343.9,180.8 344.0,187.3 344.5,195.0 C345.0,202.7 345.8,208.8 346.5,216.0 C347.2,223.2 347.8,229.0 349.0,238.0 C350.2,247.0 352.2,259.7 354.0,270.0 C355.8,280.3 357.6,290.0 360.0,300.0 C362.4,310.0 365.8,320.0 368.4,330.0 C371.0,340.0 372.8,350.0 375.6,360.0 C378.4,370.0 381.7,380.0 385.2,390.0 C388.7,400.0 392.6,410.0 396.5,420.0 C400.4,430.0 404.6,440.0 408.3,450.0 C412.0,460.0 415.9,471.7 418.8,480.0 C421.8,488.3 422.9,492.1 426.0,500.0 C429.1,507.9 432.3,515.1 437.6,527.6 C442.9,540.1 451.1,559.0 457.8,575.1 C464.5,591.2 470.3,608.0 478.0,624.1 C485.7,640.2 495.9,656.0 503.8,672.0 C511.7,688.0 518.8,705.6 525.3,720.4 C531.8,735.2 537.1,747.0 543.0,760.7 C548.9,774.4 554.7,788.8 560.6,802.5 C566.5,816.2 572.5,829.6 578.5,842.8 C584.5,856.0 590.1,867.2 596.6,881.8 C603.1,896.4 610.1,914.0 617.5,930.5 C624.9,947.0 633.4,964.1 640.9,980.9 C648.4,997.7 655.3,1015.2 662.5,1031.4 C669.7,1047.6 679.6,1068.4 684.1,1078.2 C688.6,1088.0 688.6,1088.0 689.5,1090.0" fill="none" stroke="#f00" stroke-width="6" stroke-linejoin="round"/>
<path d="M342.2,128.0 C342.3,140.0 342.4,179.2 342.6,200.0 C342.8,220.8 342.8,240.5 343.4,253.0 C344.0,265.5 345.0,267.2 346.0,275.0 C347.0,282.8 347.9,290.8 349.2,300.0 C350.5,309.2 352.2,320.0 354.0,330.0 C355.8,340.0 358.2,350.0 360.0,360.0 C361.8,370.0 363.3,380.0 364.8,390.0 C366.3,400.0 367.4,410.0 369.0,420.0 C370.6,430.0 372.5,440.0 374.4,450.0 C376.3,460.0 378.5,470.8 380.4,480.0 C382.3,489.2 384.1,497.2 386.0,505.0 C387.9,512.8 389.2,517.8 391.5,527.0 C393.8,536.2 396.7,548.5 399.5,560.0 C402.3,571.5 405.6,584.3 408.3,596.0 C411.1,607.7 413.4,619.3 416.0,630.0 C418.6,640.7 421.3,649.0 424.0,660.0 C426.7,671.0 429.2,684.0 432.1,696.0 C435.0,708.0 438.1,720.1 441.1,732.1 C444.1,744.1 447.2,756.1 450.1,768.1 C453.0,780.1 455.6,792.1 458.6,804.1 C461.6,816.1 465.0,828.2 468.1,840.2 C471.2,852.2 474.2,864.2 477.1,876.2 C480.1,888.2 483.0,900.3 485.8,912.3 C488.6,924.3 490.8,935.0 494.2,948.3 C497.6,961.6 502.9,978.7 506.5,992.0 C510.1,1005.3 512.6,1016.1 515.5,1028.1 C518.4,1040.1 520.9,1052.1 523.6,1064.1 C526.3,1076.1 529.2,1089.7 531.7,1100.2 C534.2,1110.7 536.9,1119.0 538.9,1127.2 C540.9,1135.5 543.1,1146.0 544.0,1149.7" fill="none" stroke="#00f" stroke-width="6" stroke-linejoin="round"/>
</g>
<defs><clipPath id="cy"><rect x="100" y="72.4" width="212" height="67.4"/><rect x="100" y="139.8" width="166" height="13"/><rect x="281.7" y="139.8" width="7.9" height="13"/><rect x="100" y="544.8" width="212" height="67.4"/><rect x="100" y="612.2" width="166" height="13"/><rect x="281.7" y="612.2" width="7.9" height="13"/><rect x="100" y="1014.6" width="212" height="67.4"/><rect x="100" y="1082.0" width="166" height="13"/><rect x="281.7" y="1082.0" width="7.9" height="13"/></clipPath><clipPath id="cx"><rect x="600" y="1555" width="200" height="56.4"/><rect x="600" y="1611.4" width="30" height="11"/><rect x="645.8" y="1611.4" width="7.5" height="11"/><rect x="668" y="1611.4" width="132" height="11"/></clipPath></defs>
<g class="a" font-size="73.5" clip-path="url(#cy)">
<text transform="translate(305.3,147.4) scale(1.045,1)" text-anchor="end">1</text>
<text transform="translate(305.3,619.8) scale(1.045,1)" text-anchor="end">0.1</text>
<text transform="translate(305.3,1089.6) scale(1.045,1)" text-anchor="end">0.01</text>
</g>
<g class="a" font-size="73.5">
<g><text transform="translate(340.0,1618) scale(1.008,1)" text-anchor="middle">0</text></g>
<g clip-path="url(#cx)"><text transform="translate(689.3,1618) scale(1.008,1)" text-anchor="middle">100</text></g>
<g><text transform="translate(1037.7,1618) scale(1.008,1)" text-anchor="middle">200</text></g>
<g><text transform="translate(1385.7,1618) scale(1.008,1)" text-anchor="middle">300</text></g>
<g><text transform="translate(1734.0,1618) scale(1.008,1)" text-anchor="middle">400</text></g>
<g><text transform="translate(2081.0,1618) scale(1.008,1)" text-anchor="middle">500</text></g>
</g>
<text class="s" font-size="88" x="1031" y="1699.7">Time(sec)</text>
<text class="s" font-size="92" transform="translate(160.3,966) rotate(-90)">C/C<tspan font-size="53" dy="34.5">0</tspan></text>
<text class="s" font-size="89" x="623" y="188.6">T=373K</text>
<text class="s" font-size="88.4" x="422.3" y="269">Methylcyclohexane</text>
<text class="s" font-size="88.5" x="1487" y="194.5">Experimental Data</text>
<text class="s" font-size="88" x="1479.5" y="603">Theoretical Curves</text>
<text class="b" font-size="73.6" x="1784" y="290.7">CPY</text>
<text class="b" font-size="73.2" x="1779" y="404">FUSY</text>
<text class="b" font-size="73.2" x="1779" y="515.7">RUSY</text>
<text class="b" font-size="71.2" x="1789.2" y="697.6">CPY</text>
<text class="b" font-size="70.6" x="1783" y="809.2">FUSY</text>
<text class="b" font-size="71.2" x="1783" y="922.6">RUSY</text>
<rect x="1639.6" y="242.6" width="38.0" height="38.0" fill="#fff" stroke="#000" stroke-width="3.0"/>
<path d="M1645.3,357.1 Q1649.8,352.6 1655.3,352.6 L1661.1,352.6 Q1666.6,352.6 1671.1,357.1 L1675.8,361.8 Q1680.3,366.3 1680.3,371.8 L1680.3,377.6 Q1680.3,383.1 1675.8,387.6 L1671.1,392.3 Q1666.6,396.8 1661.1,396.8 L1655.3,396.8 Q1649.8,396.8 1645.3,392.3 L1640.6,387.6 Q1636.1,383.1 1636.1,377.6 L1636.1,371.8 Q1636.1,366.3 1640.6,361.8 Z" fill="#fff" stroke="#f00" stroke-width="2.8"/>
<path d="M1633.5,504.2 L1688.3,504.2 L1660.9,457.7 Z" fill="#fff" stroke="#00f" stroke-width="2.4" stroke-miterlimit="10"/>
<line x1="1562.5" y1="667.3" x2="1769" y2="667.3" stroke="#000" stroke-width="7.2"/>
<line x1="1562.5" y1="780.7" x2="1769" y2="780.7" stroke="#f00" stroke-width="6.8"/>
<line x1="1562.5" y1="890.5" x2="1769" y2="890.5" stroke="#00f" stroke-width="6.2"/>
</svg></body></html>
